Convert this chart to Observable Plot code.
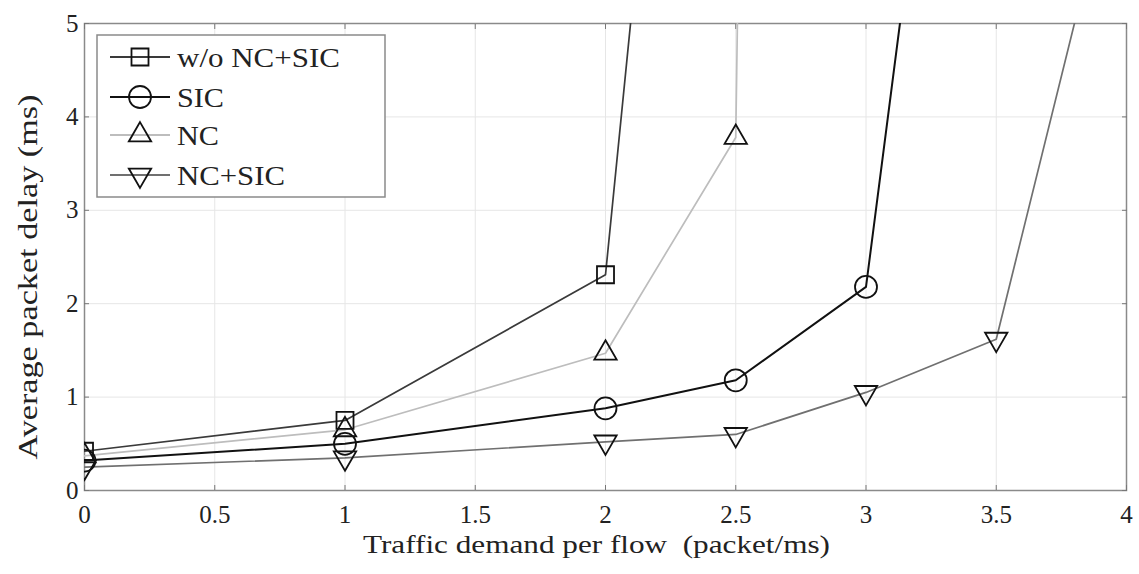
<!DOCTYPE html>
<html>
<head>
<meta charset="utf-8">
<script src="https://cdn.jsdelivr.net/npm/d3@7"></script>
<script src="https://cdn.jsdelivr.net/npm/@observablehq/plot@0.6"></script>
<style>
  html, body { margin: 0; padding: 0; background: #fff; }
  #wrap { position: relative; width: 1139px; height: 574px; }
  #legend { position: absolute; left: 0; top: 0; }
</style>
</head>
<body>
<div id="wrap"></div>
<script>
const demand   = [0, 1, 2, 2.5, 3, 3.5, 4];
const seriesNames = ["w/o NC+SIC", "SIC", "NC", "NC+SIC"];
const delayWo     = [0.42, 0.75, 2.31, 16.3, null, null, null];
const delaySIC    = [0.32, 0.50, 0.88, 1.18, 2.18, 13.0, null];
const delayNC     = [0.37, 0.65, 1.47, 3.78, 100, null, null];
const delayNCSIC  = [0.25, 0.35, 0.52, 0.60, 1.05, 1.62, 7.25];
const xTicks = [0, 0.5, 1, 1.5, 2, 2.5, 3, 3.5, 4];
const yTicks = [0, 1, 2, 3, 4, 5];
const xLabel = "Traffic demand per flow  (packet/ms)";
const yLabel = "Average packet delay (ms)";

const lineColors = ["#3a3a3a", "#111111", "#bdbdbd", "#707070"];

const triangleDown = {
  draw(context, size) {
    const s3 = Math.sqrt(3);
    const y = -Math.sqrt(size / (s3 * 3));
    context.moveTo(0, -y * 2);
    context.lineTo(-s3 * y, y);
    context.lineTo(s3 * y, y);
    context.closePath();
  }
};
const symbols = ["square", "circle", "triangle", triangleDown];
const radii = [9.6, 11, 8.3, 8.3];

const allDelays = [delayWo, delaySIC, delayNC, delayNCSIC];
const rows = [];
allDelays.forEach((arr, i) => {
  arr.forEach((v, j) => {
    if (v != null) rows.push({series: seriesNames[i], x: demand[j], y: v, i});
  });
});

const font = "'Liberation Serif', 'Times New Roman', serif";

const marks = [
  Plot.ruleX(xTicks, {stroke: "#e6e6e6", strokeWidth: 1}),
  Plot.ruleY(yTicks, {stroke: "#e6e6e6", strokeWidth: 1}),
  Plot.frame({stroke: "#8a8a8a", strokeWidth: 1.5}),
  Plot.axisX({anchor: "bottom", ticks: xTicks, tickSize: -5, tickPadding: 20, tickFormat: d => String(d), label: null, stroke: "#777", fill: "#222"}),
  Plot.axisX({anchor: "top", ticks: xTicks, tickSize: -5, tickFormat: () => "", label: null, stroke: "#777"}),
  Plot.axisY({anchor: "left", ticks: yTicks, tickSize: -5, tickPadding: 11, tickFormat: d => String(d), label: null, stroke: "#777", fill: "#222"}),
  Plot.axisY({anchor: "right", ticks: yTicks, tickSize: -5, tickFormat: () => "", label: null, stroke: "#777"}),
];
seriesNames.forEach((name, i) => {
  const d = rows.filter(r => r.i === i);
  marks.push(Plot.line(d, {x: "x", y: "y", stroke: lineColors[i], strokeWidth: i === 1 ? 2 : 1.7, clip: true}));
});
seriesNames.forEach((name, i) => {
  const d = rows.filter(r => r.i === i);
  marks.push(Plot.dot(d, {x: "x", y: "y", symbol: () => symbols[i], r: radii[i], stroke: "#111", strokeWidth: 1.8, fill: "none", clip: true}));
});

const chart = Plot.plot({
  width: 1139,
  height: 574,
  marginLeft: 84,
  marginRight: 13,
  marginTop: 23,
  marginBottom: 84,
  style: {fontFamily: font, background: "#fff", overflow: "visible"},
  x: {domain: [0, 4]},
  y: {domain: [0, 5]},
  symbol: {type: "identity"},
  marks: [
    ...marks,
    Plot.text([xLabel], {frameAnchor: "bottom", lineAnchor: "middle", dx: -9, dy: 54, fontSize: 26, fill: "#222", fontFamily: font, className: "xlab"}),
    Plot.text([yLabel], {frameAnchor: "left", dx: -56, dy: 20, rotate: -90, textAnchor: "middle", lineAnchor: "middle", fontSize: 27, fill: "#222", fontFamily: font, className: "ylab"})
  ]
});

const wrap = document.getElementById("wrap");
wrap.appendChild(chart);
const svgSel = d3.select(chart);
svgSel.selectAll("text").style("font-size", "25px");
svgSel.selectAll(".xlab text").style("font-size", "26px").attr("textLength", 467).attr("lengthAdjust", "spacingAndGlyphs");
svgSel.selectAll(".ylab text").style("font-size", "27px").attr("textLength", 365).attr("lengthAdjust", "spacingAndGlyphs");

// legend overlay
const lg = d3.select(wrap).append("svg")
  .attr("id", "legend").attr("width", 1139).attr("height", 574)
  .style("font-family", font);
lg.append("rect").attr("x", 97).attr("y", 35).attr("width", 288).attr("height", 162)
  .attr("fill", "#fff").attr("stroke", "#8a8a8a").attr("stroke-width", 1.5);
const entryY = [57, 97, 135, 175];
const legendLen = [163, 47, 42, 108];
seriesNames.forEach((name, i) => {
  const g = lg.append("g");
  g.append("line").attr("x1", 110).attr("x2", 170).attr("y1", entryY[i]).attr("y2", entryY[i])
    .attr("stroke", lineColors[i]).attr("stroke-width", 1.8);
  const sym = d3.symbol().type(typeof symbols[i] === "string"
      ? {square: d3.symbolSquare, circle: d3.symbolCircle, triangle: d3.symbolTriangle}[symbols[i]]
      : symbols[i]).size(Math.PI * radii[i] * radii[i]);
  g.append("path").attr("d", sym()).attr("transform", `translate(140,${entryY[i]})`)
    .attr("fill", "none").attr("stroke", "#111").attr("stroke-width", 1.8);
  g.append("text").attr("x", 177).attr("y", entryY[i]).attr("dy", "0.35em")
    .attr("font-size", 28).attr("fill", "#222")
    .attr("textLength", legendLen[i]).attr("lengthAdjust", "spacingAndGlyphs")
    .text(name);
});
</script>
</body>
</html>
